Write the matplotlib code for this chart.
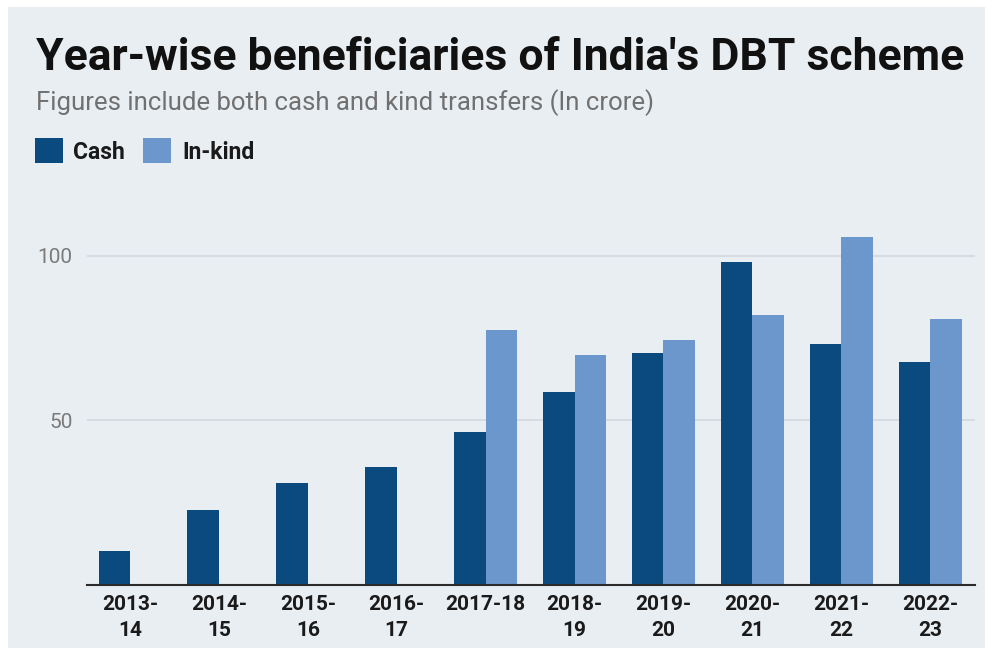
import matplotlib.pyplot as plt
import numpy as np
from matplotlib.patches import Rectangle

# Year-wise DBT beneficiaries (crore)
years = ["2013-\n14", "2014-\n15", "2015-\n16", "2016-\n17", "2017-18",
         "2018-\n19", "2019-\n20", "2020-\n21", "2021-\n22", "2022-\n23"]
cash = [10.4, 22.8, 30.9, 35.8, 46.5, 58.7, 70.6, 98.0, 73.3, 67.8]
in_kind = [np.nan, np.nan, np.nan, np.nan, 77.5, 70.0, 74.5, 81.9, 105.7, 80.7]
y_ticks = [50, 100]

CASH_COLOR = "#0b4a7e"
KIND_COLOR = "#6b97cd"
BG = "#e9eef3"
W, H = 992, 655

fig = plt.figure(figsize=(W / 100, H / 100), dpi=100, facecolor="white")
fig.patches.append(Rectangle((8 / W, 1 - 648 / H), 977 / W, 641 / H,
                             transform=fig.transFigure, facecolor=BG,
                             edgecolor="none", zorder=-1))

ax = fig.add_axes([86.7 / W, 1 - 585 / H, (975 - 86.7) / W, (585 - 223) / H])
ax.set_facecolor(BG)
ax.set_zorder(1)

x = np.arange(len(years))
w = 0.354
ax.bar(x - w / 2, cash, width=w, color=CASH_COLOR, zorder=3)
ax.bar(x + w / 2, in_kind, width=w, color=KIND_COLOR, zorder=3)

ax.set_xlim(-0.487, 9.505)
ax.set_ylim(0, 110)
ax.set_yticks(y_ticks)
ax.yaxis.grid(True, color="#d3d8de", linewidth=1.2, zorder=0)
ax.set_axisbelow(True)

for side in ["top", "right", "left"]:
    ax.spines[side].set_visible(False)
ax.spines["bottom"].set_color("#2b2b2b")
ax.spines["bottom"].set_linewidth(1.5)
ax.spines["bottom"].set_zorder(4)

ax.set_xticks(x)
ax.set_xticklabels(years, fontsize=15, fontweight="bold", family="Roboto",
                   color="#1a1a1a", linespacing=1.45)
ax.tick_params(axis="x", length=0, pad=7.5)
ax.tick_params(axis="y", length=0, pad=10, labelsize=15, labelcolor="#7a7a7a")
for lbl in ax.get_yticklabels():
    lbl.set_family("Roboto")

# Title, subtitle and legend
fig.text(36 / W, 1 - 70 / H, "Year-wise beneficiaries of India's DBT scheme",
         fontsize=32, fontweight="bold", family="Roboto", color="#111111",
         va="baseline", ha="left")
fig.text(36 / W, 1 - 110 / H, "Figures include both cash and kind transfers (In crore)",
         fontsize=18.5, family="Roboto", color="#707070", va="baseline", ha="left")

legend_items = [("Cash", CASH_COLOR, 35, 73), ("In-kind", KIND_COLOR, 143, 182)]
for label, color, sx, tx in legend_items:
    fig.patches.append(Rectangle((sx / W, 1 - 163 / H), 28 / W, 25 / H,
                                 transform=fig.transFigure, facecolor=color,
                                 edgecolor="none", zorder=2))
    fig.text(tx / W, 1 - 159 / H, label, fontsize=16.5, fontweight="bold",
             family="Roboto", color="#1a1a1a", va="baseline", ha="left")

fig.savefig("out.png", dpi=100, facecolor="white")
